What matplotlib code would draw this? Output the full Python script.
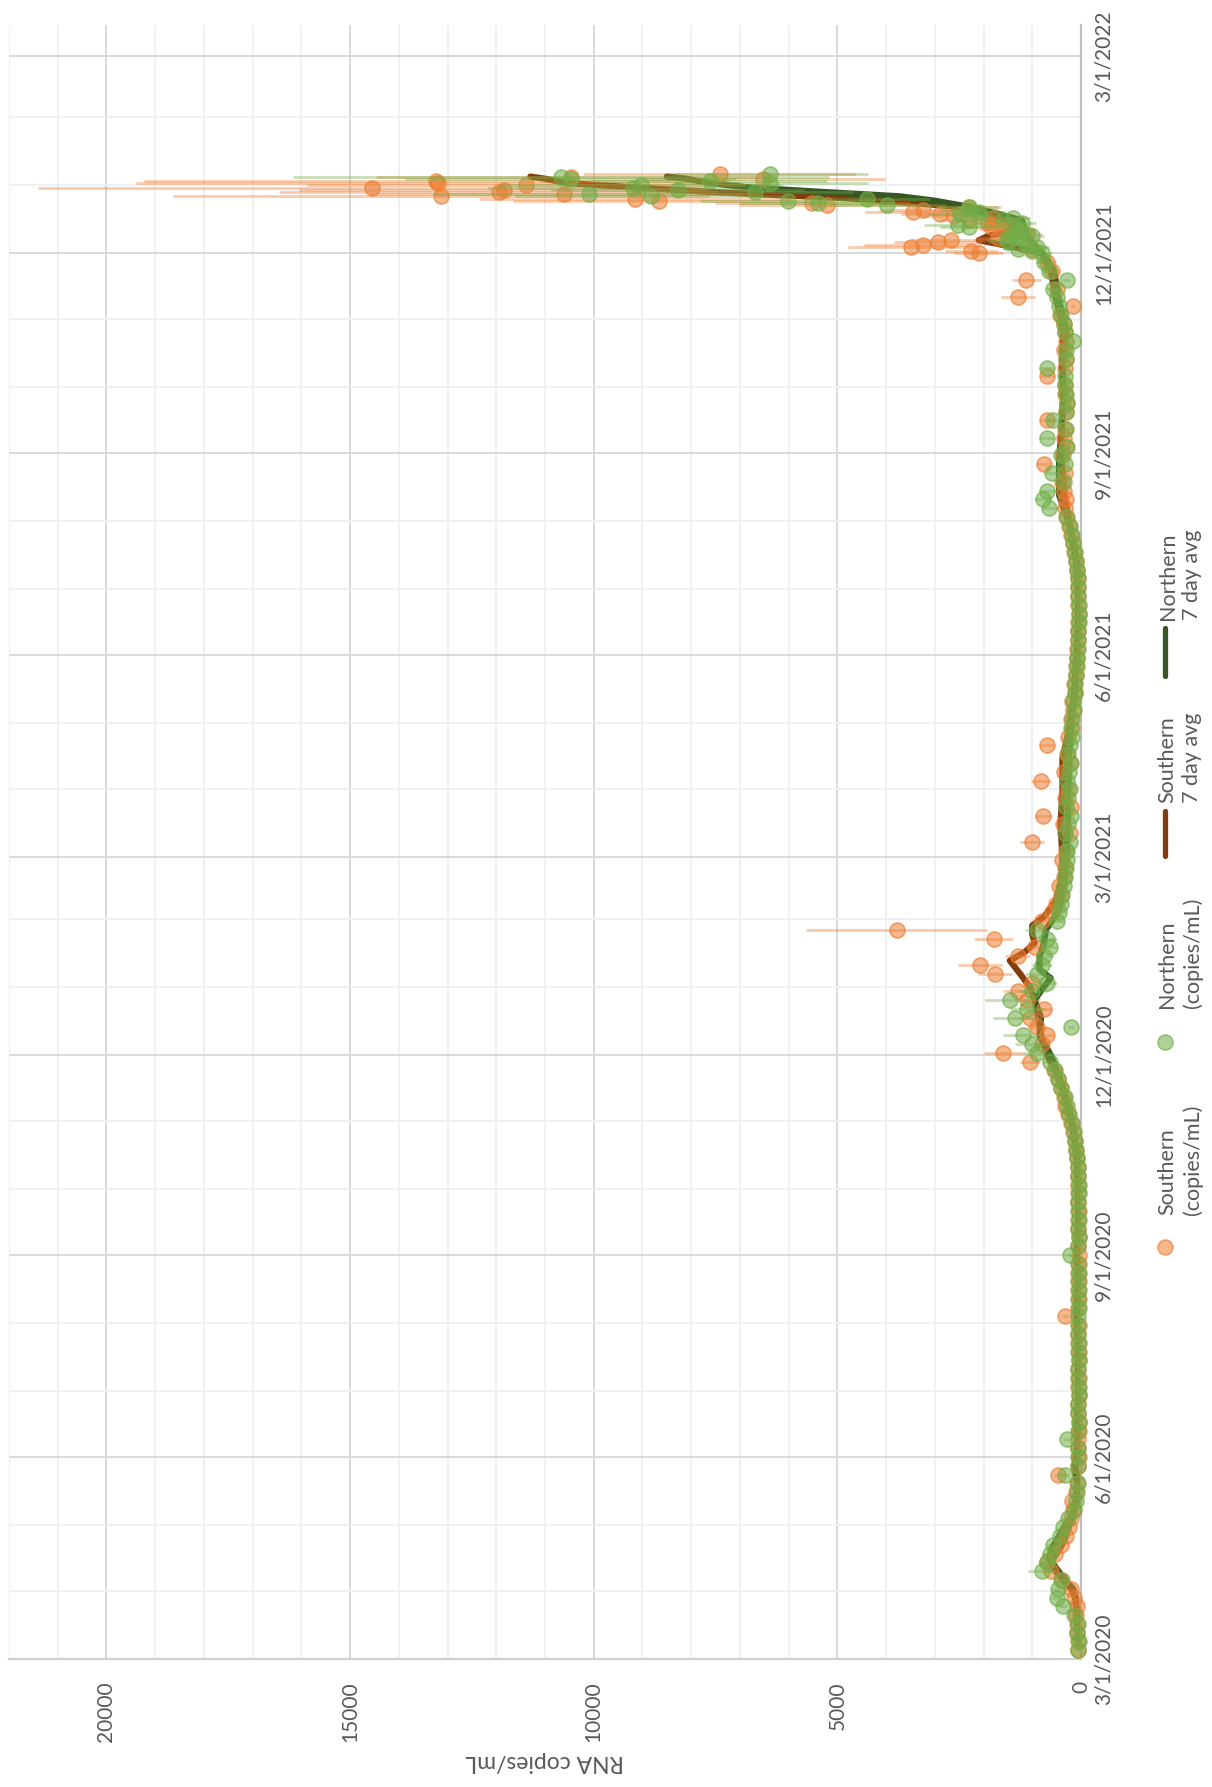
import numpy as np
import pandas as pd
import matplotlib
matplotlib.use('Agg')
import matplotlib.pyplot as plt
from matplotlib.ticker import MultipleLocator
import matplotlib.dates as mdates
from matplotlib.lines import Line2D

plt.rcParams['font.family'] = ['Lato', 'DejaVu Sans']

# sample dates: every 4th day up to late Nov 2021, then every day
dates_main = pd.date_range('2020-03-05', '2021-11-27', freq='4D')
dates_dense = pd.date_range('2021-12-01', '2022-01-06', freq='D')

# Southern plant (copies/mL), one row per month
south_main = [70, 60, 90, 80, 110, 90, 140,
              200, 380, 620, 700, 540, 400, 300, 250,
              200, 160, 190, 100, 90, 470, 60,
              50, 60, 70, 50, 45, 60, 55, 50,
              55, 50, 60, 45, 50, 60, 55, 50,
              330, 55, 50, 60, 45, 55, 50,
              50, 60, 45, 55, 60, 50, 55, 60,
              60, 55, 70, 90, 110, 130, 160, 200,
              260, 320, 350, 420, 480, 560, 1050,
              1600, 800, 700, 900, 1050, 750, 1100, 1300,
              1000, 1770, 2070, 1300, 950, 1790, 3785, 800,
              600, 520, 400, 450, 350, 320, 380,
              300, 1000, 230, 360, 770, 200, 330,
              270, 820, 340, 220, 290, 700, 260, 180,
              200, 160, 180, 130, 150, 110, 100, 90,
              80, 70, 60, 55, 50, 55, 60,
              60, 70, 90, 110, 140, 170, 200, 240,
              280, 330, 300, 350, 380, 330, 760, 360,
              300, 350, 330, 700, 300, 290, 320,
              330, 700, 320, 300, 340, 310, 330, 350,
              430, 160, 1290, 500, 1120, 600, 700]
south_main_err = [20, 15, 25, 20, 30, 25, 40,
                  60, 90, 150, 120, 100, 80, 60, 50,
                  50, 40, 45, 25, 25, 80, 15,
                  15, 15, 20, 15, 10, 15, 15, 10,
                  15, 10, 15, 10, 10, 15, 15, 10,
                  60, 15, 10, 15, 10, 15, 10,
                  10, 15, 10, 15, 15, 10, 15, 15,
                  15, 15, 20, 25, 30, 35, 40, 50,
                  60, 70, 80, 90, 100, 120, 200,
                  400, 150, 150, 200, 250, 150, 250, 300,
                  200, 350, 450, 250, 200, 400, 1850, 200,
                  150, 120, 100, 100, 80, 80, 90,
                  70, 250, 60, 70, 180, 60, 70,
                  60, 200, 70, 60, 60, 150, 60, 50,
                  50, 40, 40, 35, 30, 30, 25, 20,
                  20, 15, 15, 15, 10, 15, 15,
                  15, 15, 20, 25, 30, 40, 50, 55,
                  60, 70, 60, 80, 90, 70, 150, 80,
                  70, 80, 70, 150, 70, 60, 70,
                  70, 150, 70, 60, 80, 70, 70, 80,
                  100, 40, 350, 120, 300, 150, 180]
south_dense = [2100, 2250, 1000, 3480, 3250, 2940, 2670, 1700, 1450, 1100,
               1300, 1650, 1850, 1500, 1900, 2300, 1800, 2600, 2900, 3440,
               3250, 2300, 5220, 5510, 8650, 9150, 13130, 10600, 11950, 11850,
               14550, 11380, 13200, 13230, 6530, 10470, 7410]
south_dense_err = [500, 550, 250, 1300, 1200, 900, 800, 450, 400, 300,
                   350, 450, 500, 400, 500, 600, 500, 700, 800, 1000,
                   900, 650, 1800, 2000, 3000, 3200, 5500, 4000, 4500, 4200,
                   6850, 4500, 6200, 6000, 2500, 4000, 2800]

# Northern plant (copies/mL)
north_main = [60, 50, 80, 70, 140, 370, 500,
              480, 400, 800, 700, 640, 575, 430, 360,
              260, 150, 110, 80, 70, 330, 60,
              60, 70, 290, 60, 50, 55, 60, 45,
              50, 60, 55, 50, 60, 45, 55, 60,
              60, 50, 55, 45, 60, 50, 55,
              225, 55, 50, 60, 45, 55, 60, 50,
              50, 60, 65, 80, 100, 120, 150, 180,
              250, 290, 330, 400, 470, 540, 640,
              900, 1000, 1200, 205, 1350, 1100, 1460, 1000,
              700, 900, 800, 750, 640, 700, 900, 500,
              450, 420, 380, 350, 320, 300, 290,
              280, 220, 330, 270, 210, 310, 260,
              230, 280, 250, 200, 270, 230, 190, 200,
              190, 150, 170, 120, 130, 100, 90, 80,
              70, 60, 55, 50, 45, 50, 55,
              55, 65, 80, 100, 130, 160, 190, 230,
              300, 650, 780, 700, 350, 600, 330, 400,
              290, 705, 300, 565, 310, 280, 300,
              320, 330, 700, 310, 300, 160, 330, 340,
              400, 450, 500, 570, 290, 650, 750]
north_main_err = [15, 15, 20, 15, 40, 80, 120,
                  120, 100, 280, 180, 160, 140, 100, 90,
                  70, 40, 30, 20, 20, 80, 15,
                  15, 15, 70, 15, 10, 15, 15, 10,
                  10, 15, 15, 10, 15, 10, 15, 15,
                  15, 10, 15, 10, 15, 10, 15,
                  60, 15, 10, 15, 10, 15, 15, 10,
                  10, 15, 15, 20, 25, 30, 40, 45,
                  60, 70, 80, 100, 110, 130, 160,
                  300, 350, 400, 60, 450, 350, 500, 300,
                  200, 250, 200, 200, 150, 200, 250, 150,
                  120, 110, 100, 90, 80, 80, 70,
                  70, 60, 80, 70, 60, 70, 60,
                  60, 60, 70, 60, 60, 50, 50, 50,
                  45, 40, 35, 30, 30, 25, 20, 20,
                  15, 15, 15, 10, 10, 10, 15,
                  15, 15, 20, 25, 30, 40, 50, 55,
                  70, 150, 180, 160, 80, 140, 80, 90,
                  70, 150, 70, 130, 70, 60, 70,
                  70, 80, 150, 70, 70, 40, 80, 80,
                  90, 100, 120, 130, 70, 150, 180]
north_dense = [800, 1000, 1300, 900, 1100, 1500, 1525, 1200, 1000, 1400,
               1300, 1250, 2300, 2520, 1220, 1600, 1400, 2090, 2480, 2100,
               2300, 2300, 3980, 5400, 6020, 4390, 8820, 10100, 6680, 8280,
               9200, 9030, 6380, 7620, 10470, 10680, 6380]
north_dense_err = [200, 250, 300, 250, 300, 400, 400, 300, 250, 350,
                   350, 300, 600, 700, 300, 400, 350, 550, 650, 550,
                   600, 600, 1200, 1600, 1800, 1300, 2800, 3200, 2000, 2600,
                   3000, 2900, 2000, 2400, 3400, 5500, 2000]

# 7 day averages
south_avg_dates = ['2020-03-08', '2020-03-15', '2020-03-22', '2020-03-29', '2020-04-02',
                   '2020-04-06', '2020-04-10', '2020-04-13', '2020-04-16', '2020-04-20',
                   '2020-04-25', '2020-04-30', '2020-05-06', '2020-05-12', '2020-05-20',
                   '2020-05-27', '2020-06-03', '2020-06-14', '2020-07-09', '2020-08-08',
                   '2020-08-23', '2020-09-17', '2020-10-01', '2020-10-15', '2020-10-29',
                   '2020-11-12', '2020-11-22', '2020-12-01', '2020-12-10', '2020-12-18',
                   '2020-12-26', '2021-01-01', '2021-01-07', '2021-01-13', '2021-01-17',
                   '2021-01-21', '2021-01-25', '2021-01-29', '2021-02-02', '2021-02-09',
                   '2021-02-19', '2021-03-01', '2021-03-16', '2021-03-31', '2021-04-15',
                   '2021-04-30', '2021-05-15', '2021-05-30', '2021-06-14', '2021-06-29',
                   '2021-07-14', '2021-07-29', '2021-08-13', '2021-08-28', '2021-09-12',
                   '2021-09-27', '2021-10-12', '2021-10-27', '2021-11-11', '2021-11-23',
                   '2021-12-01', '2021-12-04', '2021-12-07', '2021-12-09', '2021-12-11',
                   '2021-12-14', '2021-12-17', '2021-12-20', '2021-12-22', '2021-12-24',
                   '2021-12-26', '2021-12-29', '2021-12-31', '2022-01-02', '2022-01-04',
                   '2022-01-05']
south_avg = [60, 70, 85, 120, 200, 360, 520, 610, 570, 440,
             330, 250, 160, 110, 80, 130, 90, 55, 55, 90,
             55, 55, 60, 85, 170, 330, 480, 700, 820, 880,
             950, 1050, 1250, 1460, 1150, 950, 1000, 1000, 760, 520,
             400, 380, 420, 380, 380, 230, 140, 95, 60, 60,
             100, 220, 340, 400, 400, 360, 390, 360, 520, 620,
             800, 1400, 2100, 1900, 1500, 1350, 1600, 2100, 2380, 3500,
             4700, 7620, 9100, 10530, 11000, 11300]

north_avg_dates = ['2020-03-08', '2020-03-15', '2020-03-22', '2020-03-29', '2020-04-02',
                   '2020-04-06', '2020-04-10', '2020-04-13', '2020-04-16', '2020-04-20',
                   '2020-04-24', '2020-04-28', '2020-05-02', '2020-05-06', '2020-05-12',
                   '2020-05-20', '2020-05-27', '2020-06-03', '2020-06-14', '2020-06-29',
                   '2020-07-29', '2020-09-02', '2020-09-17', '2020-10-01', '2020-10-15',
                   '2020-10-29', '2020-11-12', '2020-11-22', '2020-12-01', '2020-12-10',
                   '2020-12-18', '2020-12-26', '2020-12-31', '2021-01-05', '2021-01-09',
                   '2021-01-15', '2021-01-21', '2021-01-27', '2021-02-04', '2021-02-14',
                   '2021-03-01', '2021-03-16', '2021-03-31', '2021-04-15', '2021-04-30',
                   '2021-05-15', '2021-05-30', '2021-06-14', '2021-06-29', '2021-07-14',
                   '2021-07-29', '2021-08-13', '2021-08-28', '2021-09-12', '2021-09-27',
                   '2021-10-12', '2021-10-27', '2021-11-11', '2021-11-23', '2021-12-01',
                   '2021-12-06', '2021-12-11', '2021-12-16', '2021-12-19', '2021-12-22',
                   '2021-12-25', '2021-12-27', '2021-12-29', '2021-12-31', '2022-01-02',
                   '2022-01-04', '2022-01-05']
north_avg = [55, 60, 80, 110, 160, 330, 460, 560, 650, 610,
             500, 400, 290, 160, 90, 65, 110, 70, 90, 55,
             55, 80, 55, 55, 80, 150, 310, 460, 620, 850,
             820, 950, 800, 620, 850, 850, 760, 720, 480, 370,
             300, 270, 265, 250, 200, 130, 85, 55, 55, 90,
             210, 450, 450, 400, 360, 380, 300, 470, 550, 800,
             1000, 1150, 1210, 1700, 2240, 3000, 3716, 5300, 6800, 7600,
             8100, 8500]

value_ticks = [0, 5000, 10000, 15000, 20000]
date_ticks = ['2020-03-01', '2020-06-01', '2020-09-01', '2020-12-01', '2021-03-01',
              '2021-06-01', '2021-09-01', '2021-12-01', '2022-03-01']
date_labels = ['3/1/2020', '6/1/2020', '9/1/2020', '12/1/2020', '3/1/2021',
               '6/1/2021', '9/1/2021', '12/1/2021', '3/1/2022']

s_dates = dates_main.append(dates_dense)
n_dates = dates_main.append(dates_dense)
s_vals = south_main + south_dense
s_errs = south_main_err + south_dense_err
n_vals = north_main + north_dense
n_errs = north_main_err + north_dense_err

orange_face = (0.929, 0.490, 0.192, 0.55)
orange_edge = (0.929, 0.490, 0.192, 0.65)
orange_bar = (0.929, 0.490, 0.192, 0.4)
green_face = (0.439, 0.678, 0.278, 0.55)
green_edge = (0.439, 0.678, 0.278, 0.65)
green_bar = (0.439, 0.678, 0.278, 0.4)
text_col = '#595959'

fig = plt.figure(figsize=(12.12, 17.87), dpi=100)
ax = fig.add_axes([0.0074, 0.0716, 0.8845, 0.9144])

# the chart is drawn lying on its side: values run right to left, dates bottom to top
ax.plot(south_avg, pd.to_datetime(south_avg_dates), color='#843C0C', lw=4.5,
        solid_capstyle='round', solid_joinstyle='round', zorder=2)
ax.plot(north_avg, pd.to_datetime(north_avg_dates), color='#375623', lw=4.5,
        solid_capstyle='round', solid_joinstyle='round', zorder=2)

ax.errorbar(s_vals, s_dates, xerr=s_errs, fmt='o', ms=10.8,
            mfc=orange_face, mec=orange_edge, mew=1.2,
            ecolor=orange_bar, elinewidth=2, capsize=0,
            zorder=3, clip_on=False)
ax.errorbar(n_vals, n_dates, xerr=n_errs, fmt='o', ms=10.8,
            mfc=green_face, mec=green_edge, mew=1.2,
            ecolor=green_bar, elinewidth=2, capsize=0,
            zorder=4, clip_on=False)

ax.set_xlim(22000, 0)
ax.set_ylim(pd.Timestamp('2020-03-01'), pd.Timestamp('2022-03-15'))

ax.set_xticks(value_ticks, labels=[str(v) for v in value_ticks],
              rotation=90, va='top', ha='center')
ax.xaxis.set_minor_locator(MultipleLocator(1000))
ax.yaxis.tick_right()
ax.set_yticks(pd.to_datetime(date_ticks), labels=date_labels,
              rotation=90, va='center', ha='left')
ax.yaxis.set_minor_locator(mdates.MonthLocator())
ax.tick_params(axis='x', which='both', length=0, pad=16, labelsize=15, labelcolor=text_col)
ax.tick_params(axis='y', which='both', length=0, pad=9, labelsize=15, labelcolor=text_col)

ax.set_axisbelow(True)
ax.grid(which='major', color='#D9D9D9', lw=1.4)
ax.grid(which='minor', color='#F0F0F0', lw=1.4)
for side in ['top', 'left']:
    ax.spines[side].set_visible(False)
ax.spines['right'].set_color('#BFBFBF')
ax.spines['right'].set_linewidth(1.6)
ax.spines['bottom'].set_color('#D0D0D0')
ax.spines['bottom'].set_linewidth(1.6)

fig.text(0.4497, 0.0145, 'RNA copies/mL', rotation=180, ha='center', va='center',
         fontsize=16.5, color=text_col)

# legend, drawn by hand because the whole chart is turned on its side
leg_x = 1165 / 1212
text_x = 1180 / 1212
fig.add_artist(Line2D([leg_x], [0.3022], marker='o', ms=10.8, ls='none',
                      mfc=orange_face, mec=orange_edge, mew=1.2,
                      transform=fig.transFigure))
fig.text(text_x, 0.3201, 'Southern\n(copies/mL)', rotation=90, ha='center', va='bottom',
         multialignment='left', fontsize=15.5, color=text_col, linespacing=1.3)
fig.add_artist(Line2D([leg_x], [0.4169], marker='o', ms=10.8, ls='none',
                      mfc=green_face, mec=green_edge, mew=1.2,
                      transform=fig.transFigure))
fig.text(text_x, 0.4359, 'Northern\n(copies/mL)', rotation=90, ha='center', va='bottom',
         multialignment='left', fontsize=15.5, color=text_col, linespacing=1.3)
fig.add_artist(Line2D([leg_x, leg_x], [0.5210, 0.5460], color='#843C0C', lw=3.8,
                      solid_capstyle='round', transform=fig.transFigure))
fig.text(text_x, 0.5506, 'Southern\n7 day avg', rotation=90, ha='center', va='bottom',
         multialignment='left', fontsize=15.5, color=text_col, linespacing=1.3)
fig.add_artist(Line2D([leg_x, leg_x], [0.6215, 0.6485], color='#375623', lw=3.8,
                      solid_capstyle='round', transform=fig.transFigure))
fig.text(text_x, 0.6530, 'Northern\n7 day avg', rotation=90, ha='center', va='bottom',
         multialignment='left', fontsize=15.5, color=text_col, linespacing=1.3)

fig.savefig('out.png', dpi=100)
